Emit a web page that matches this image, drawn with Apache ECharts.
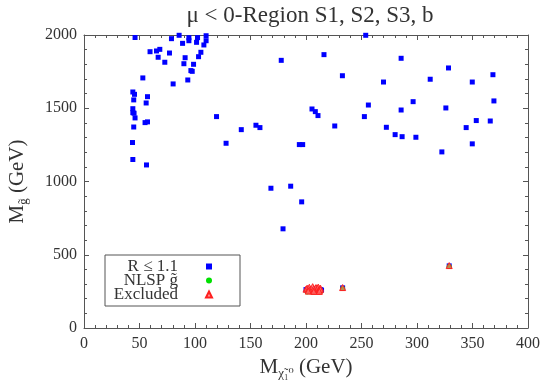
<!DOCTYPE html>
<html>
<head>
<meta charset="utf-8">
<script src="https://cdn.jsdelivr.net/npm/echarts@6/dist/echarts.min.js"></script>
<style>
  html, body { margin: 0; padding: 0; background: #fff; }
  #chart { width: 545px; height: 380px; }
</style>
</head>
<body>
<div id="chart"></div>
<script>
// R <= 1.1 points (blue squares)
var ratioPoints = [
  [46, 1983], [85.7, 1998], [78.8, 1975], [88.8, 1943], [94.5, 1982], [94.5, 1961],
  [102.3, 1982], [101.4, 1950], [110, 1995], [110, 1961], [108, 1932], [105.3, 1882],
  [103.2, 1852], [98.7, 1800], [96.3, 1757], [97.5, 1752], [93.5, 1693], [91.1, 1845],
  [90, 1804], [77, 1877], [72.8, 1814], [80.3, 1666], [68.3, 1902], [65.3, 1891],
  [66.8, 1848], [59.5, 1886], [53, 1707], [44, 1611], [45.5, 1595], [44.8, 1557],
  [57.2, 1579], [56, 1536], [44, 1497], [44, 1470], [45.1, 1466], [46, 1434],
  [44.8, 1372], [55, 1402], [57.2, 1407], [43.7, 1266], [44, 1150], [56.3, 1113],
  [119.4, 1443], [128, 1261], [253.8, 1998], [177.7, 1827], [216.2, 1866], [232.8, 1722],
  [269.8, 1679], [285.7, 1841], [141.7, 1354], [154.9, 1384], [158.5, 1368], [194, 1252],
  [197, 1252], [205.4, 1495], [208.4, 1477], [210.8, 1450], [225.9, 1379], [252.6, 1443],
  [256.2, 1522], [272.4, 1370], [280.3, 1320], [285.7, 1488], [286.6, 1306], [328.4, 1775],
  [311.9, 1698], [349.8, 1679], [368.4, 1729], [296.5, 1545], [326, 1502], [369.3, 1550],
  [299, 1302], [344.3, 1368], [353.4, 1416], [366, 1413], [349.8, 1257], [322.4, 1202],
  [168.4, 954], [186.2, 968], [196.1, 861], [179.3, 677],
  [200, 262], [201, 258], [203, 265], [204, 255], [206, 262], [208, 258], [209, 266],
  [211, 256], [213, 262], [214, 259], [233, 274], [329, 424]
];
// NLSP gluino points (green circles)
var nlspPoints = [
  [201, 245], [203, 248], [206, 244], [208, 247], [211, 245], [213, 248],
  [233, 270], [329, 420]
];
// excluded points (red triangles)
var excludedPoints = [
  [200, 265], [201, 272], [202, 260], [203, 278], [204, 266], [205, 255], [206, 282],
  [207, 270], [208, 260], [209, 276], [210, 265], [210, 252], [211, 279], [212, 268],
  [212, 258], [213, 272], [213, 262], [202, 252], [207, 250], [212, 250],
  [233, 276], [329, 426]
];
var legendNames = ['R \u2264 1.1', 'NLSP g\u0303', 'Excluded'];

var serif = '"Liberation Serif", "DejaVu Serif", serif';
var frame = '#555';

function makeAxis(pos, isX, labels) {
  var ax = {
    type: 'value',
    position: pos,
    min: 0,
    max: isX ? 400 : 2000,
    interval: isX ? 50 : 500,
    axisLine: { show: true, onZero: false, lineStyle: { color: frame, width: 1 } },
    axisTick: { show: true, inside: true, length: 5, lineStyle: { color: frame } },
    minorTick: { show: true, splitNumber: 5, length: 3, lineStyle: { color: frame } },
    splitLine: { show: false },
    axisLabel: {
      show: labels, color: '#333', fontFamily: serif, fontSize: 16, margin: isX ? 8 : 7,
      formatter: function (v) { return String(v); }
    }
  };
  return ax;
}

var chart = echarts.init(document.getElementById('chart'));

var nameRich = {
  m: { fontFamily: serif, fontSize: 21, color: '#333' },
  s: { fontFamily: serif, fontSize: 13, color: '#333', padding: [13, 0, 0, 0] }
};

var xBottom = makeAxis('bottom', true, true);
xBottom.name = '{m|M}{s|\u03c7\u0303\u2081\u2070}{m| (GeV)}';
xBottom.nameLocation = 'middle';
xBottom.nameGap = 12;
xBottom.nameTextStyle = { rich: nameRich };
var xTop = makeAxis('top', true, false);

var yLeft = makeAxis('left', false, true);
yLeft.name = '{m|M}{s|g\u0303}{m| (GeV)}';
yLeft.nameLocation = 'middle';
yLeft.nameGap = 54;
yLeft.nameTextStyle = { rich: nameRich };
var yRight = makeAxis('right', false, false);

chart.setOption({
  animation: false,
  title: {
    text: '\u03bc < 0-Region S1, S2, S3, b',
    left: 305,
    textAlign: 'center',
    top: -1,
    textStyle: { fontFamily: serif, fontSize: 23, fontWeight: 'normal', color: '#333' }
  },
  grid: { left: 84, right: 17, top: 35, bottom: 52, outerBoundsMode: 'none' },
  xAxis: [xBottom, xTop],
  yAxis: [yLeft, yRight],
  legend: {
    orient: 'vertical',
    left: 105,
    top: 255,
    align: 'right',
    data: legendNames,
    itemWidth: 6,
    itemHeight: 6,
    itemGap: -3,
    padding: [3, 27, 3, 7],
    borderColor: '#555',
    borderWidth: 1,
    borderRadius: 0,
    backgroundColor: '#fff',
    textStyle: {
      fontFamily: serif, fontSize: 17, color: '#333',
      width: 66, align: 'right', lineHeight: 15, padding: [0, 23, 0, 0]
    }
  },
  series: [
    {
      name: legendNames[0],
      type: 'scatter',
      symbol: 'rect',
      symbolSize: 5,
      itemStyle: { color: '#0000ff', opacity: 1 },
      data: ratioPoints,
      z: 2
    },
    {
      name: legendNames[1],
      type: 'scatter',
      symbol: 'circle',
      symbolSize: 5,
      itemStyle: { color: '#00e000', opacity: 1 },
      data: nlspPoints,
      z: 3
    },
    {
      name: legendNames[2],
      type: 'scatter',
      symbol: 'triangle',
      symbolSize: 6,
      itemStyle: { color: 'rgba(255,110,110,0.7)', borderColor: '#ff2020', borderWidth: 1, opacity: 1 },
      data: excludedPoints,
      z: 4
    }
  ]
});
</script>
</body>
</html>
